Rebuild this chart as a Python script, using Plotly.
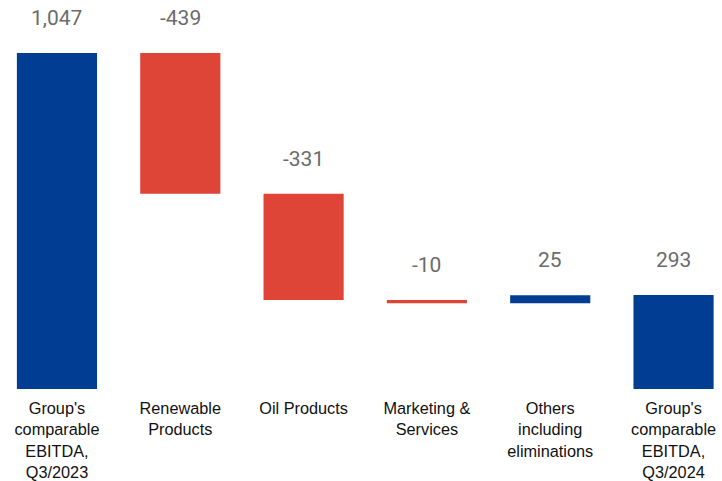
import plotly.graph_objects as go

categories = ["Group's<br>comparable<br>EBITDA,<br>Q3/2023", "Renewable<br>Products", "Oil Products",
              "Marketing &<br>Services", "Others<br>including<br>eliminations", "Group's<br>comparable<br>EBITDA,<br>Q3/2024"]
values = [1047, -439, -331, -10, 25, 293]
measures = ["absolute", "relative", "relative", "relative", "relative", "absolute"]
labels = ["1,047", "-439", "-331", "-10", "25", "293"]

BLUE = "#003D93"
RED = "#DE4537"

fig = go.Figure(go.Waterfall(
    x=list(range(len(categories))),
    y=values,
    measure=measures,
    increasing=dict(marker=dict(color=BLUE)),
    decreasing=dict(marker=dict(color=RED)),
    totals=dict(marker=dict(color=BLUE)),
    connector=dict(visible=False),
    hoverinfo="skip",
))

# label positions at the top of each bar
running = 0
tops = []
for v, m in zip(values, measures):
    if m == "absolute":
        start, end = 0, v
        running = v
    else:
        start, end = running, running + v
        running = end
    tops.append(max(start, end))

for i, (t, lab) in enumerate(zip(tops, labels)):
    fig.add_annotation(x=i, y=t, text=lab, showarrow=False, yanchor="middle", yshift=35,
                       font=dict(family="Roboto", size=21, color="#6b6b6b"))

fig.update_layout(
    width=722, height=481,
    margin=dict(l=0, r=0, t=0, b=92),
    paper_bgcolor="white", plot_bgcolor="white",
    waterfallgap=0.35,
    showlegend=False,
    xaxis=dict(tickmode="array", tickvals=list(range(len(categories))), ticktext=categories,
               range=[-0.462, 5.393], showgrid=False, zeroline=False, showline=False,
               ticklabelstandoff=8, automargin=False,
               tickfont=dict(family="Liberation Sans, Arial", size=16.3, color="#111111")),
    yaxis=dict(range=[0, 1212], visible=False, showgrid=False, zeroline=False, automargin=False),
)

fig.write_html("out.html")
